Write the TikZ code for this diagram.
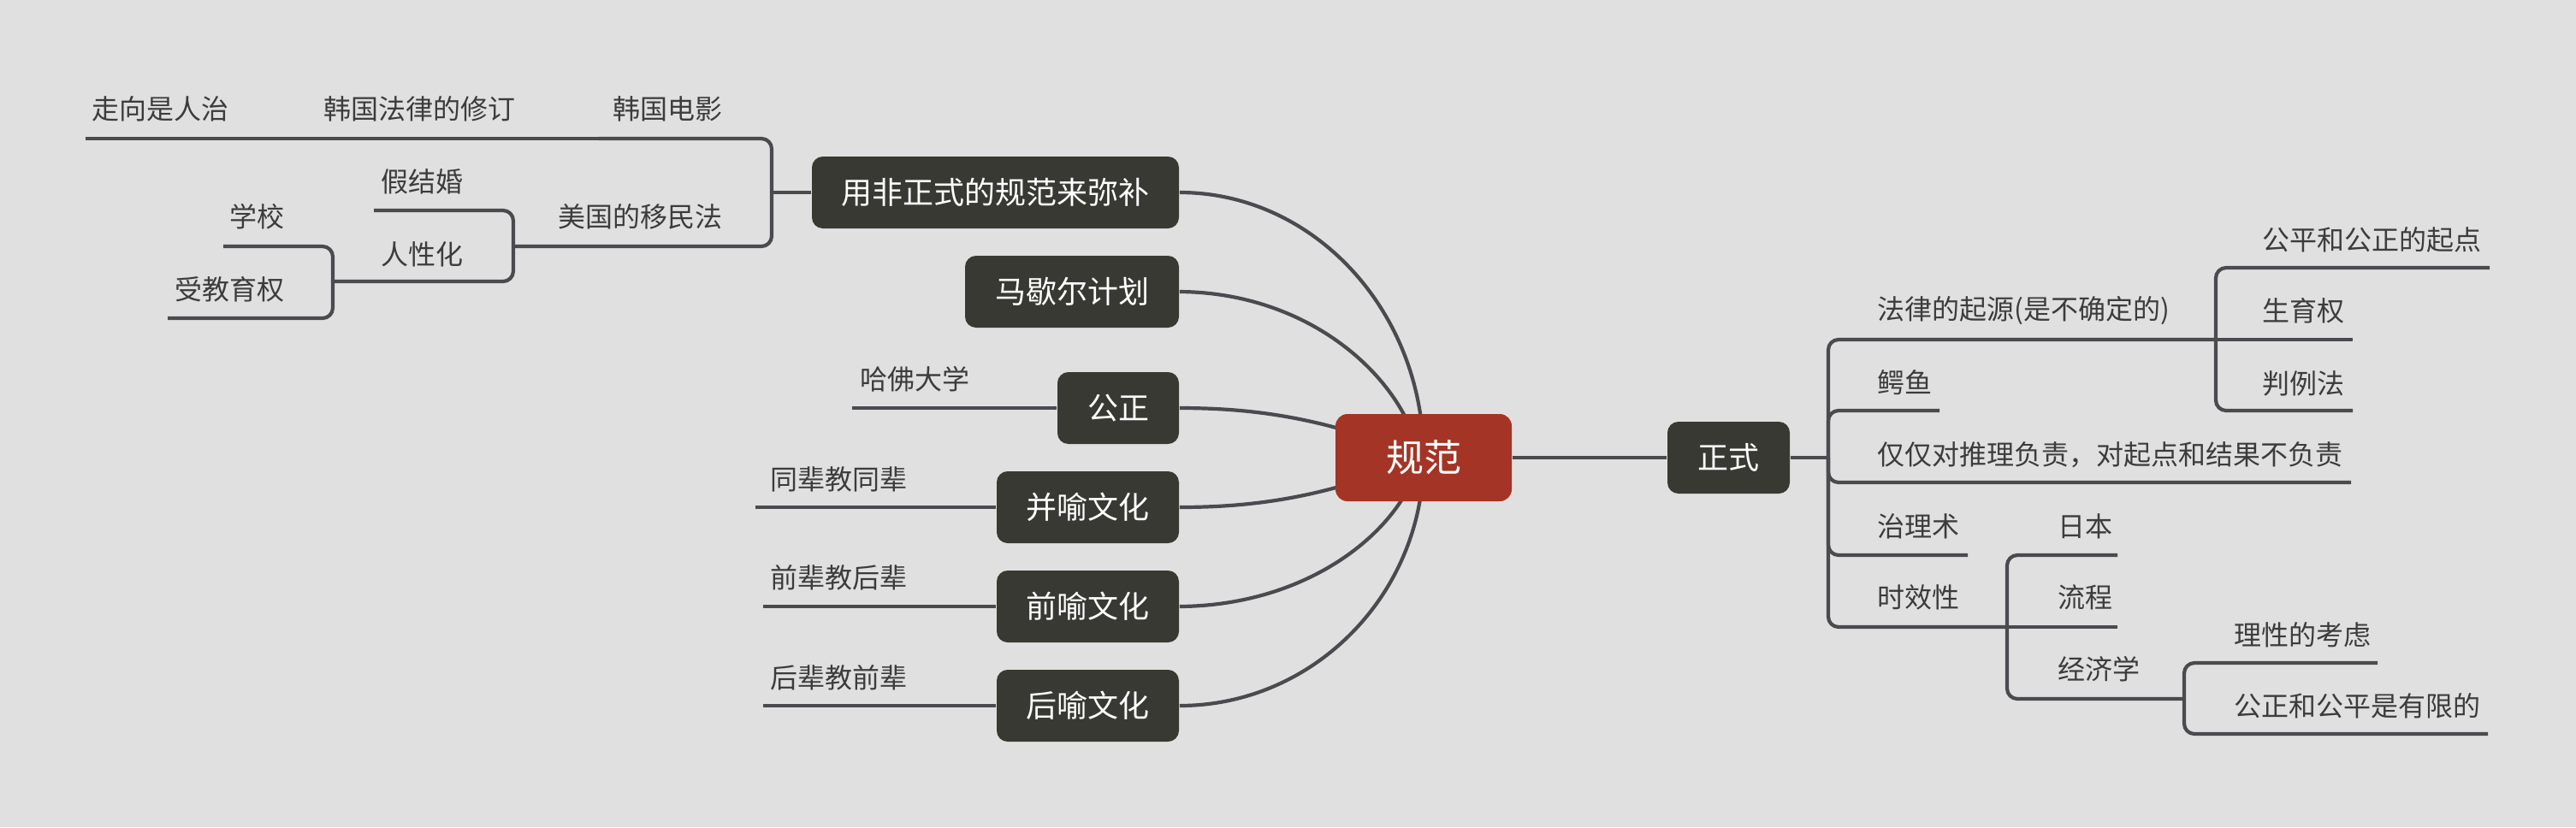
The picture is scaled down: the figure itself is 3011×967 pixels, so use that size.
\documentclass[tikz,border=0pt]{standalone}
\usepackage{fontspec}
\setmainfont{Noto Sans CJK SC}
\definecolor{bgc}{HTML}{E0E0E0}
\definecolor{linec}{HTML}{4A4A4F}
\definecolor{boxc}{HTML}{393933}
\definecolor{rootc}{HTML}{A43526}
\definecolor{leafc}{HTML}{3C3C3C}
\pgfdeclarelayer{bg}
\pgfdeclarelayer{back}
\pgfsetlayers{back,bg,main}
\begin{document}
\begin{tikzpicture}[x=0.25pt,y=-0.25pt,
  conn/.style={draw=linec, line width=1.05pt, rounded corners=3pt},
  curve/.style={draw=linec, line width=1.05pt},
  box/.style={fill=boxc, rounded corners=3.2pt, text=white, inner sep=0pt,
    font=\fontsize{9pt}{11pt}\selectfont, minimum height=21pt},
  rootbox/.style={fill=rootc, rounded corners=3.5pt, text=white, inner sep=0pt,
    font=\fontsize{11pt}{13pt}\selectfont, minimum height=25.5pt, minimum width=51.5pt},
  leaf/.style={text=leafc, inner sep=0pt, font=\fontsize{8pt}{10pt}\selectfont},
]
\useasboundingbox (0,0) rectangle (3011,967);
\begin{pgfonlayer}{back}
\fill[bgc] (0,0) rectangle (3011,967);
\end{pgfonlayer}

% ---------- main nodes ----------
\node[rootbox] (root) at (1664,535) {规范};
\node[box, minimum width=35.75pt] (zs) at (2020.5,535) {正式};
\node[box, minimum width=107.25pt] (fb) at (1163.5,225) {用非正式的规范来弥补};
\node[box, minimum width=62.5pt] (msr) at (1253,341) {马歇尔计划};
\node[box, minimum width=35.5pt] (gz) at (1307,477) {公正};
\node[box, minimum width=53.25pt] (by) at (1271.5,593) {并喻文化};
\node[box, minimum width=53.25pt] (qy) at (1271.5,709) {前喻文化};
\node[box, minimum width=53.25pt] (hy) at (1271.5,825) {后喻文化};

% ---------- curves from root ----------
\begin{pgfonlayer}{bg}
\draw[curve] (fb.east) .. controls (1536,225) and (1664,364) .. (root.center);
\draw[curve] (msr.east) .. controls (1530,342) and (1640,440) .. (1660,535);
\draw[curve] (gz.east) .. controls (1480,477) and (1560,493) .. (root.center);
\draw[curve] (by.east) .. controls (1480,593) and (1560,577) .. (root.center);
\draw[curve] (qy.east) .. controls (1530,708) and (1640,620) .. (1660,535);
\draw[curve] (hy.east) .. controls (1536,825) and (1664,694) .. (root.center);
\end{pgfonlayer}

\draw[conn] (root.east) -- (zs.west);

% ---------- right side: 正式 ----------
\coordinate (t0) at (2137,535);
\draw[conn] (zs.east) -- (t0);
\node[leaf, anchor=west] (fl) at (2194,363) {法律的起源(是不确定的)};
\node[leaf, anchor=west] (ey) at (2194,447) {鳄鱼};
\node[leaf, anchor=west] (jj) at (2194,532) {仅仅对推理负责，对起点和结果不负责};
\node[leaf, anchor=west] (zl) at (2194,615) {治理术};
\node[leaf, anchor=west] (sx) at (2194,698) {时效性};
\coordinate (flj) at (2590,397);
\draw[conn] (t0) |- (flj);
\draw[conn] (t0) |- (2267,480);
\draw[conn] (t0) |- (2748,564);
\draw[conn] (t0) |- (2300,649);
\coordinate (sxj) at (2346,733);
\draw[conn] (t0) |- (sxj);

\node[leaf, anchor=west] (gp) at (2644,280) {公平和公正的起点};
\node[leaf, anchor=west] (sy) at (2644,363) {生育权};
\node[leaf, anchor=west] (pl) at (2644,448) {判例法};
\draw[conn] (flj) |- (2910,313);
\draw[conn] (flj) -- (2750,397);
\draw[conn] (flj) |- (2750,480);

\node[leaf, anchor=west] (rb) at (2405,615) {日本};
\node[leaf, anchor=west] (lc) at (2405,698) {流程};
\node[leaf, anchor=west] (jjx) at (2405,782) {经济学};
\coordinate (jjj) at (2553,817);
\draw[conn] (sxj) |- (2475,649);
\draw[conn] (sxj) -- (2475,733);
\draw[conn] (sxj) |- (jjj);

\node[leaf, anchor=west] (lx) at (2611,742) {理性的考虑};
\node[leaf, anchor=west] (gzgp) at (2611,825) {公正和公平是有限的};
\draw[conn] (jjj) |- (2779,775);
\draw[conn] (jjj) |- (2908,858);

% ---------- left side: 用非正式的规范来弥补 ----------
\coordinate (l0) at (902,225);
\draw[conn] (fb.west) -- (l0);
\node[leaf, anchor=east] (hgdy) at (845,127) {韩国电影};
\node[leaf, anchor=east] (hgfl) at (603,127) {韩国法律的修订};
\node[leaf, anchor=east] (zxrz) at (268,127) {走向是人治};
\coordinate (c1) at (700,162);
\coordinate (c2) at (366,162);
\draw[conn] (l0) |- (c1);
\draw[conn] (c1) -- (c2);
\draw[conn] (c2) -- (100,162);

\node[leaf, anchor=east] (ymf) at (845,253) {美国的移民法};
\coordinate (ymj) at (600,288);
\draw[conn] (l0) |- (ymj);
\node[leaf, anchor=east] (jjh) at (542,212) {假结婚};
\node[leaf, anchor=east] (rxh) at (542,297) {人性化};
\coordinate (rxj) at (389,329);
\draw[conn] (ymj) |- (437,246);
\draw[conn] (ymj) |- (rxj);
\node[leaf, anchor=east] (xx) at (333,253) {学校};
\node[leaf, anchor=east] (sjy) at (333,338) {受教育权};
\draw[conn] (rxj) |- (261,288);
\draw[conn] (rxj) |- (196,372);

% ---------- left leaves ----------
\node[leaf, anchor=east] (hf) at (1134,443) {哈佛大学};
\draw[conn] (gz.west) -- (996,477);
\node[leaf, anchor=east] (tb) at (1061,560) {同辈教同辈};
\draw[conn] (by.west) -- (883,593);
\node[leaf, anchor=east] (qb) at (1061,675) {前辈教后辈};
\draw[conn] (qy.west) -- (892,709);
\node[leaf, anchor=east] (hb) at (1061,792) {后辈教前辈};
\draw[conn] (hy.west) -- (892,825);
\end{tikzpicture}
\end{document}
